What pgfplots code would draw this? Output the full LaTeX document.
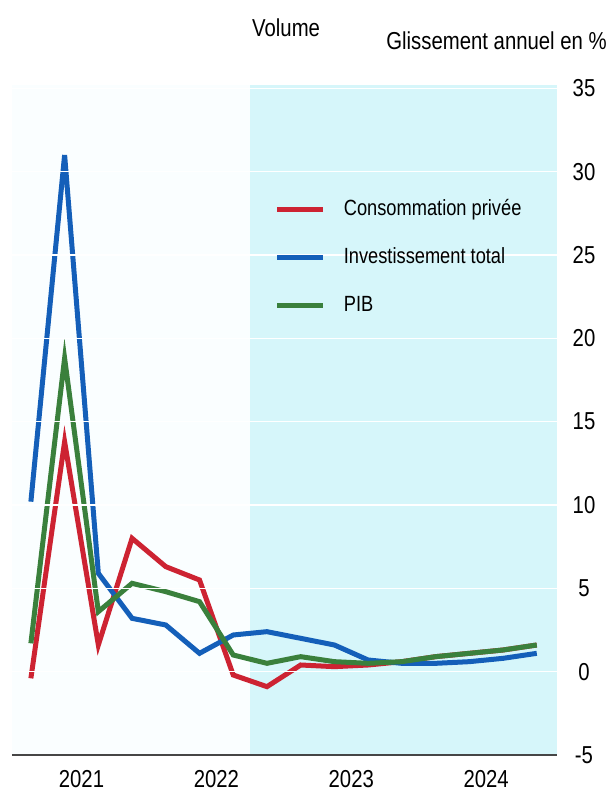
\documentclass[border=0pt]{standalone}
\usepackage{fontspec}
\setmainfont[FakeStretch=0.83]{Liberation Sans}
\usepackage{pgfplots}
\pgfplotsset{compat=1.18}
\definecolor{cred}{RGB}{205,35,50}
\definecolor{cblue}{RGB}{20,95,185}
\definecolor{cgreen}{RGB}{58,128,60}
\definecolor{cshade}{RGB}{214,246,250}
\definecolor{bgc}{RGB}{250,254,255}
\definecolor{axc}{RGB}{70,70,70}
\begin{document}
\begin{tikzpicture}
\path[use as bounding box] (-12pt,-39pt) rectangle (597pt,755pt);
\begin{axis}[
  at={(0pt,0pt)}, anchor=south west,
  scale only axis, width=545pt, height=670pt,
  xmin=-0.56, xmax=15.6, ymin=-5, ymax=35.2,
  axis on top,
  axis background/.style={fill=bgc},
  axis x line=bottom, axis y line=right,
  x axis line style={-, draw=axc, line width=1.3pt},
  y axis line style={draw=none},
  major tick length=0pt,
  xtick={1.5,5.5,9.5,13.5},
  xticklabels={2021,2022,2023,2024},
  ytick={0,5,10,15,20,25,30,35},
  yticklabels={0,5,10,15,20,25,30,35},
  extra y ticks={-5}, extra y tick labels={-5},
  extra y tick style={grid=none},
  ymajorgrids, grid style={draw=white, line width=1.5pt},
  every tick label/.append style={font=\fontsize{24.5}{29}\selectfont},
  xticklabel style={anchor=center, yshift=-24pt},
  yticklabel style={anchor=center, xshift=27pt},
  legend style={draw=none, fill=none, at={(rel axis cs:0.481,0.83)}, anchor=north west,
    inner sep=0pt, row sep=27pt,
    nodes={inner sep=0pt, text height=16pt, text depth=5pt, font=\fontsize{22}{26}\selectfont},
    /tikz/every odd column/.append style={column sep=18pt}},
  legend cell align=left,
  legend image code/.code={\draw[#1, line width=5.5pt] (0pt,0pt) -- (46pt,0pt);},
  clip=false,
]
\fill[cshade] (axis cs:6.5,-5) rectangle (axis cs:15.6,35.2);
\addplot[cred, line width=5pt] coordinates {
(0,-0.4) (1,13.8) (2,1.6) (3,8.0) (4,6.3) (5,5.5) (6,-0.2) (7,-0.9)
(8,0.4) (9,0.3) (10,0.4) (11,0.6) (12,0.9) (13,1.1) (14,1.3) (15,1.6)};
\addlegendentry{Consommation privée}
\addplot[cblue, line width=5pt] coordinates {
(0,10.2) (1,31.0) (2,5.9) (3,3.2) (4,2.8) (5,1.1) (6,2.2) (7,2.4)
(8,2.0) (9,1.6) (10,0.7) (11,0.5) (12,0.5) (13,0.6) (14,0.8) (15,1.1)};
\addlegendentry{Investissement total}
\addplot[cgreen, line width=5pt] coordinates {
(0,1.7) (1,18.8) (2,3.6) (3,5.3) (4,4.8) (5,4.2) (6,1.0) (7,0.5)
(8,0.9) (9,0.6) (10,0.5) (11,0.6) (12,0.9) (13,1.1) (14,1.3) (15,1.6)};
\addlegendentry{PIB}
\end{axis}
\node[anchor=base west, font=\fontsize{24.5}{29}\selectfont, inner sep=0pt] at (240pt,718pt) {Volume};
\node[anchor=base east, font=\fontsize{24.5}{29}\selectfont, inner sep=0pt] at (595pt,705pt) {Glissement annuel en \%};
\end{tikzpicture}
\end{document}
